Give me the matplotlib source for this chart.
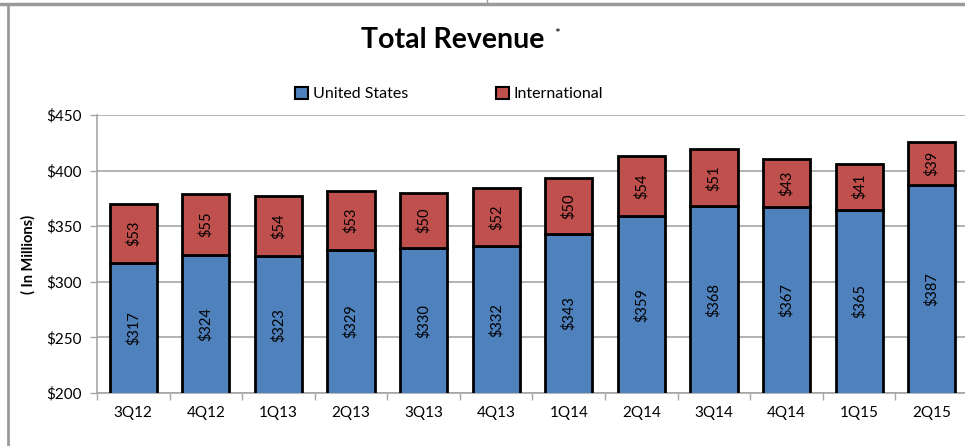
import matplotlib.pyplot as plt
import numpy as np
from matplotlib.lines import Line2D
from matplotlib.patches import Patch

plt.rcParams['font.family'] = ['Lato', 'DejaVu Sans']

quarters = ['3Q12', '4Q12', '1Q13', '2Q13', '3Q13', '4Q13',
            '1Q14', '2Q14', '3Q14', '4Q14', '1Q15', '2Q15']
us = [317, 324, 323, 329, 330, 332, 343, 359, 368, 367, 365, 387]
intl = [53, 55, 54, 53, 50, 52, 50, 54, 51, 43, 41, 39]
yticks = [200, 250, 300, 350, 400, 450]

blue = '#4F81BD'
red = '#C0504D'
grid_c = '#A6A6A6'

fig = plt.figure(figsize=(9.65, 4.46), dpi=100)
ax = fig.add_axes([97 / 965, 1 - 393 / 446, 871 / 965, 278 / 446])

x = np.arange(len(quarters))
ax.bar(x, us, width=0.65, color=blue, edgecolor='black', linewidth=2, zorder=3)
ax.bar(x, intl, bottom=us, width=0.65, color=red, edgecolor='black',
       linewidth=2, zorder=3)

# rotated value labels in the middle of each segment
for i in range(len(quarters)):
    ax.text(x[i], (200 + us[i]) / 2, '${}'.format(us[i]), rotation=90,
            ha='center', va='center', fontsize=10.5, zorder=4)
    ax.text(x[i], us[i] + intl[i] / 2, '${}'.format(intl[i]), rotation=90,
            ha='center', va='center', fontsize=10.5, zorder=4)

ax.set_ylim(200, 450)
ax.set_xlim(-0.5, len(quarters) - 0.5)
ax.set_yticks(yticks)
ax.set_yticklabels(['${}'.format(v) for v in yticks], fontsize=11)
ax.set_xticks(x)
ax.set_xticklabels(quarters, fontsize=11)
ax.set_xticks(np.arange(len(quarters) + 1) - 0.5, minor=True)
ax.tick_params(axis='x', which='major', length=0, pad=9)
ax.tick_params(axis='x', which='minor', length=5, color=grid_c, width=1)
ax.tick_params(axis='y', length=5, color=grid_c, width=1, pad=6)
ax.yaxis.grid(True, color=grid_c, linewidth=1.2, zorder=0)
for s in ['top', 'right']:
    ax.spines[s].set_visible(False)
for s in ['left', 'bottom']:
    ax.spines[s].set_color(grid_c)
    ax.spines[s].set_linewidth(1.2)
ax.set_ylabel('( In Millions)', fontsize=10.5, fontweight='bold', labelpad=8)

fig.text(453 / 965, 1 - 40 / 446, 'Total Revenue', ha='center', va='center',
         fontsize=20.5, fontweight='bold')
fig.text(557 / 965, 1 - 34 / 446, '*', ha='center', va='center', fontsize=10)

handles = [Patch(facecolor=blue, edgecolor='black', linewidth=1.5),
           Patch(facecolor=red, edgecolor='black', linewidth=1.5)]
fig.legend(handles, ['United States', 'International'], loc='center',
           bbox_to_anchor=(449 / 965, 1 - 94 / 446), ncol=2, frameon=False,
           fontsize=11.5, handlelength=0.8, handleheight=0.8,
           handletextpad=0.3, columnspacing=5.5)

# sheet frame lines
fig.add_artist(Line2D([0, 1], [1 - 4 / 446] * 2, color='#9A9A9A', linewidth=2.5))
fig.add_artist(Line2D([8 / 965] * 2, [0, 1 - 4 / 446], color='#9A9A9A', linewidth=2))
fig.add_artist(Line2D([487 / 965] * 2, [1 - 4 / 446, 1], color='#9A9A9A', linewidth=1))

fig.savefig('out.png', dpi=100)
